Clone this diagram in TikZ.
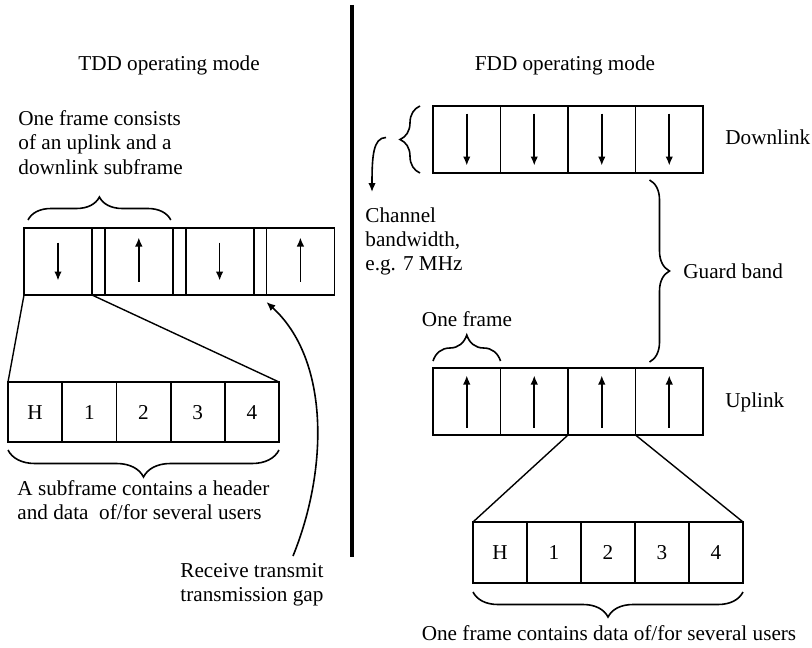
\documentclass[tikz,border=0pt]{standalone}
\usepackage{fontspec}
\setmainfont{Liberation Serif}
\usetikzlibrary{arrows.meta,positioning,decorations.pathreplacing}

\begin{document}
\begin{tikzpicture}[
  x=0.5pt,y=-0.5pt,
  font=\fontsize{10.6}{12.2}\selectfont,
  >=Latex,
  cell/.style={draw,line width=0.9pt,minimum width=34pt,minimum height=33.5pt,inner sep=0pt,outer sep=0pt},
  gapcell/.style={cell,minimum width=6.4pt},
  fcell/.style={cell,minimum width=33.75pt},
  slot/.style={draw,line width=0.9pt,minimum width=27.1pt,minimum height=30pt,inner sep=0pt,outer sep=0pt,
    text height=7pt,text depth=0pt},
  dir/.style={-{Latex[length=4.5pt,width=3.8pt]},line width=0.8pt},
  brc/.style={decorate,decoration={brace,amplitude=#1},line width=0.8pt},
  link/.style={line width=0.7pt},
  lbl/.style={inner sep=0pt,align=left}
]
  \useasboundingbox (0,0) rectangle (812,647);

  % divider between the two modes
  \draw[line width=1.6pt] (352,5) -- (352,557);

  % TDD side
  \node[inner sep=0pt,anchor=base] (tddtitle) at (169,71) {TDD operating mode};
  \node[lbl,anchor=north west] (framelbl) at (18,110)
    {One frame consists\\of an uplink and a\\downlink subframe};

  \node[cell] (t1) at (58,261.5) {};
  \node[gapcell,right=0pt of t1] (g1) {};
  \node[cell,right=0pt of g1] (t2) {};
  \node[gapcell,right=0pt of t2] (g2) {};
  \node[cell,right=0pt of g2] (t3) {};
  \node[gapcell,right=0pt of t3] (g3) {};
  \node[cell,right=0pt of g3] (t4) {};
  \draw[dir] ([yshift=9.5pt]t1.center) -- ([yshift=-9.5pt]t1.center);
  \draw[dir] ([yshift=-10pt]t2.center) -- ([yshift=12pt]t2.center);
  \draw[dir] ([yshift=9.5pt]t3.center) -- ([yshift=-9.5pt]t3.center);
  \draw[dir] ([yshift=-10pt]t4.center) -- ([yshift=12pt]t4.center);
  \draw[brc=11.5pt] ([xshift=2pt,yshift=4pt]t1.north west) -- ([xshift=-1pt,yshift=4pt]t2.north east);

  \node[slot] (s1) at (35.1,412) {H};
  \node[slot,right=0pt of s1] (s2) {1};
  \node[slot,right=0pt of s2] (s3) {2};
  \node[slot,right=0pt of s3] (s4) {3};
  \node[slot,right=0pt of s4] (s5) {4};
  \draw[link] (t1.south west) -- (s1.north west);
  \draw[link] (t1.south east) -- (s5.north east);
  \draw[brc=13.5pt] ([yshift=-4pt]s5.south east) -- ([yshift=-4pt]s1.south west);
  \node[lbl,anchor=north west] (sublbl) at (17,480)
    {A subframe contains a header\\and data~ of/for several users};

  \node[lbl,anchor=north west] (gaplbl) at (180,563)
    {Receive transmit\\transmission gap};
  \draw[dir] ([xshift=56.5pt,yshift=3.5pt]gaplbl.north west)
    .. controls (328,470) and (330,360) .. ([yshift=-3.5pt]g3.south east);

  % FDD side
  \node[inner sep=0pt,anchor=base] (fddtitle) at (565,70) {FDD operating mode};

  \node[fcell] (d1) at (466.75,139.5) {};
  \node[fcell,right=0pt of d1] (d2) {};
  \node[fcell,right=0pt of d2] (d3) {};
  \node[fcell,right=0pt of d3] (d4) {};
  \foreach \c in {d1,d2,d3,d4}
    \draw[dir] ([yshift=13pt]\c.center) -- ([yshift=-13pt]\c.center);
  \node[inner sep=0pt,anchor=base west] (dlbl) at (725,144) {Downlink};

  \draw[brc=10pt] ([xshift=-6.5pt]d1.south west) -- ([xshift=-6.5pt]d1.north west);
  \coordinate (bwtip) at ([xshift=-16.5pt]d1.west);
  \node[lbl,anchor=north west] (bwlbl) at (365,207)
    {Channel\\bandwidth,\\e.g. 7 MHz};
  \draw[dir] ([xshift=-7pt,yshift=1pt]bwtip) .. controls +(-13,0) and +(0,-35) ..
    ([xshift=3.5pt,yshift=7.5pt]bwlbl.north west);

  \node[fcell] (u1) at (466.75,401.5) {};
  \node[fcell,right=0pt of u1] (u2) {};
  \node[fcell,right=0pt of u2] (u3) {};
  \node[fcell,right=0pt of u3] (u4) {};
  \foreach \c in {u1,u2,u3,u4}
    \draw[dir] ([yshift=-13pt]\c.center) -- ([yshift=13pt]\c.center);
  \node[inner sep=0pt,anchor=base west] (ulbl) at (725,407) {Uplink};

  \draw[brc=10pt] ([xshift=7pt,yshift=-3.5pt]d4.south west) -- ([xshift=7pt,yshift=3pt]u4.north west);
  \node[inner sep=0pt,anchor=base west] (guardlbl) at (683,278) {Guard band};

  \draw[brc=13pt] ([yshift=3.5pt]u1.north west) -- ([yshift=3.5pt]u1.north east);
  \node[inner sep=0pt,anchor=base] (onelbl) at (467,326) {One frame};

  \node[slot,minimum width=27pt,minimum height=30.5pt] (f1) at (500,552.5) {H};
  \node[slot,minimum width=27pt,minimum height=30.5pt,right=0pt of f1] (f2) {1};
  \node[slot,minimum width=27pt,minimum height=30.5pt,right=0pt of f2] (f3) {2};
  \node[slot,minimum width=27pt,minimum height=30.5pt,right=0pt of f3] (f4) {3};
  \node[slot,minimum width=27pt,minimum height=30.5pt,right=0pt of f4] (f5) {4};
  \draw[link] (u3.south west) -- (f1.north west);
  \draw[link] (u3.south east) -- (f5.north east);
  \draw[brc=12.5pt] ([yshift=-4.5pt]f5.south east) -- ([yshift=-4.5pt]f1.south west);
  \node[inner sep=0pt,anchor=base] (userslbl) at (609,640)
    {One frame contains data of/for several users};
\end{tikzpicture}
\end{document}
